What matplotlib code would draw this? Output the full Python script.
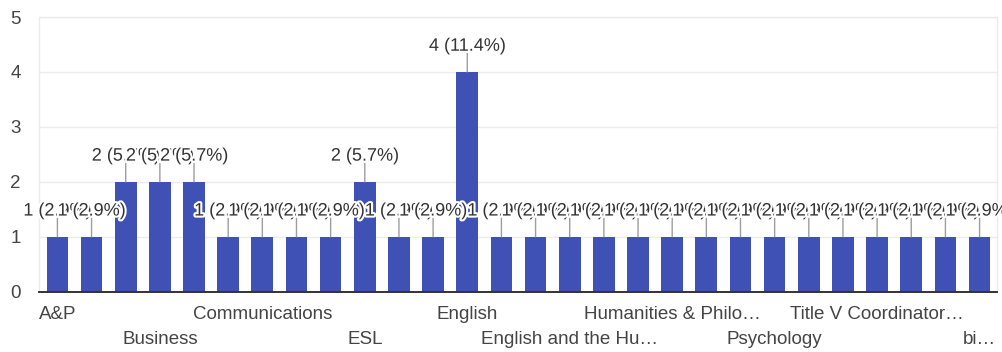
import matplotlib
matplotlib.use("Agg")
import matplotlib.pyplot as plt
import matplotlib.patheffects as pe
import numpy as np

# ---- data ----
values = [1, 1, 2, 2, 2, 1, 1, 1, 1, 2, 1, 1, 4,
          1, 1, 1, 1, 1, 1, 1, 1, 1, 1, 1, 1, 1, 1, 1]
tick_positions = [0, 3, 6, 9, 12, 15, 18, 21, 24, 27]
tick_labels = ["A&P", "Business", "Communications", "ESL", "English",
               "English and the Hu\u2026", "Humanities & Philo\u2026",
               "Psychology", "Title V Coordinator\u2026", "bi\u2026"]
y_ticks = [0, 1, 2, 3, 4, 5]

total = sum(values)
plt.rcParams['font.family'] = ['Liberation Sans', 'DejaVu Sans']

fig = plt.figure(figsize=(10.03, 3.52), dpi=100)
ax = fig.add_axes([39.3 / 1003, 60.3 / 352, (997 - 39.3) / 1003, (335 - 60.3) / 352])

x = np.arange(len(values))
ax.bar(x, values, width=0.635, color="#3f51b5", zorder=2)

ax.set_xlim(-0.53, len(values) - 1 + 0.51)
ax.set_ylim(0, 5)
ax.set_yticks(y_ticks)
ax.set_yticklabels([str(t) for t in y_ticks])
ax.grid(axis='y', color="#ebebeb", linewidth=1, zorder=0)
ax.set_axisbelow(True)

for s in ['left', 'right', 'top']:
    ax.spines[s].set_color("#ebebeb")
    ax.spines[s].set_linewidth(1)
ax.spines['bottom'].set_color("#333333")
ax.spines['bottom'].set_linewidth(1.4)
ax.spines['bottom'].set_zorder(5)

ax.tick_params(axis='y', length=0, pad=13.5, labelsize=13.5, labelcolor="#444444")
ax.set_xticks(tick_positions)
ax.set_xticklabels(tick_labels)
ax.tick_params(axis='x', length=0, labelsize=13.5, labelcolor="#444444")
for i, t in enumerate(ax.xaxis.get_major_ticks()):
    t.set_pad(10.5 if i % 2 == 0 else 28)

halo = [pe.withStroke(linewidth=3, foreground="white")]
for i, v in enumerate(values):
    ax.annotate("", xy=(i, v), xytext=(0, 13.5), textcoords='offset points',
                arrowprops=dict(arrowstyle='-', color="#9e9e9e", lw=1,
                                shrinkA=0, shrinkB=0), zorder=3)
for i, v in enumerate(values):
    pct = 100.0 * v / total
    ax.annotate(f"{v} ({pct:.1f}%)", xy=(i, v), xytext=(0, 18.5),
                textcoords='offset points', ha='center', va='center',
                fontsize=13, color="#333333", path_effects=halo,
                annotation_clip=False, zorder=4 + i * 0.01)

fig.savefig("out.png", dpi=100)
